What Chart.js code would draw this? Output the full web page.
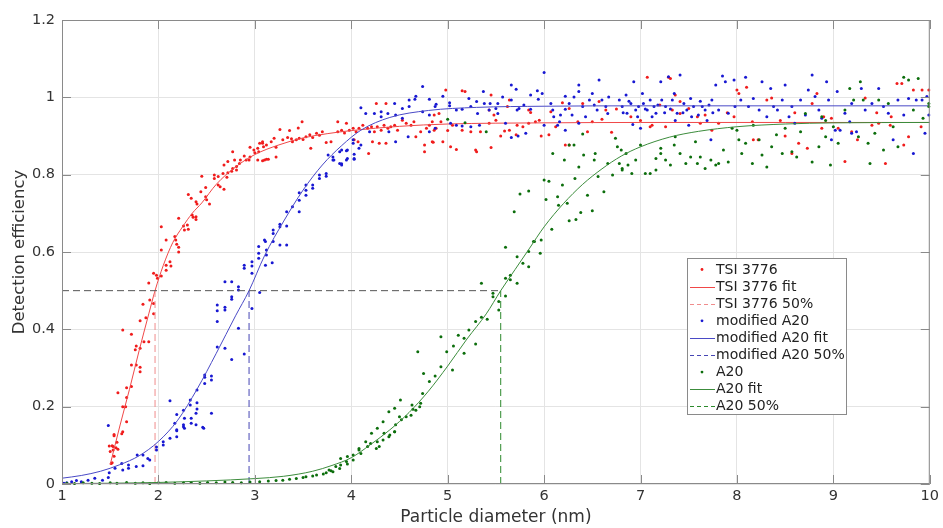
<!DOCTYPE html>
<html>
<head>
<meta charset="utf-8">
<script src="https://cdn.jsdelivr.net/npm/chart.js@4.4.1/dist/chart.umd.min.js"></script>
<style>
  html, body { margin: 0; padding: 0; background: #fff; }
  #wrap { width: 943px; height: 528px; }
</style>
</head>
<body>
<div id="wrap"><canvas id="chart" width="943" height="528"></canvas></div>
<script>
// ─── Data ───────────────────────────────────────────────────────────────────

const xTicks = [1, 2, 3, 4, 5, 6, 7, 8, 9, 10];
const yTicks = [0, 0.2, 0.4, 0.6, 0.8, 1, 1.2];

const seriesNames = [
  'TSI 3776', 'TSI 3776 fit', 'TSI 3776 50%',
  'modified A20', 'modified A20 fit', 'modified A20 50%',
  'A20', 'A20 fit', 'A20 50%',
];

// d50 cut-off diameters (nm) where the fits cross 0.5
const tsiD50 = 1.965;
const modD50 = 2.94;
const a20D50 = 5.55;
const halfLevel = 0.5;

// TSI 3776 measured points [diameter, efficiency]
const tsiPoints = [
  [1.49,0.098],[1.50,0.084],[1.51,0.053],[1.52,0.099],[1.52,0.055],[1.53,0.097],[1.53,0.088],[1.54,0.128],
  [1.54,0.072],[1.54,0.125],[1.56,0.094],[1.57,0.108],[1.58,0.090],[1.63,0.135],[1.62,0.130],[1.67,0.161],
  [1.63,0.200],[1.66,0.200],[1.58,0.236],[1.67,0.249],[1.67,0.224],[1.72,0.252],[1.72,0.308],[1.77,0.308],
  [1.81,0.302],[1.81,0.290],[1.77,0.357],[1.76,0.347],[1.81,0.351],[1.85,0.368],[1.90,0.368],[1.81,0.422],
  [1.87,0.430],[1.63,0.398],[1.72,0.387],[1.84,0.465],[1.91,0.476],[1.95,0.467],[1.95,0.440],[1.90,0.520],
  [1.95,0.545],[1.98,0.540],[1.99,0.532],[2.03,0.538],[2.08,0.553],[2.08,0.566],[2.12,0.575],[2.13,0.564],
  [2.03,0.605],[2.03,0.665],[2.08,0.631],[2.17,0.640],[2.18,0.631],[2.19,0.620],[2.21,0.612],[2.21,0.600],
  [2.21,0.687],[2.26,0.667],[2.30,0.670],[2.27,0.657],[2.31,0.659],[2.35,0.696],[2.36,0.690],[2.39,0.691],
  [2.39,0.684],[2.31,0.749],[2.34,0.739],[2.39,0.730],[2.40,0.724],[2.45,0.796],[2.49,0.767],[2.44,0.756],
  [2.49,0.743],[2.50,0.735],[2.53,0.724],[2.58,0.799],[2.58,0.790],[2.62,0.795],[2.62,0.773],[2.64,0.769],
  [2.68,0.762],[2.67,0.803],[2.72,0.805],[2.71,0.793],[2.68,0.825],[2.72,0.834],[2.76,0.809],[2.77,0.816],
  [2.81,0.812],[2.81,0.821],[2.77,0.859],[2.79,0.838],[2.84,0.829],[2.85,0.838],[2.89,0.848],[2.91,0.838],
  [2.94,0.838],[2.95,0.846],[2.95,0.871],[2.99,0.864],[3.00,0.857],[3.03,0.868],[3.04,0.859],[3.08,0.881],
  [3.09,0.872],[3.12,0.840],[3.03,0.838],[3.08,0.836],[3.05,0.881],[3.08,0.885],[3.12,0.877],[3.17,0.885],
  [3.20,0.894],[3.22,0.871],[3.10,0.838],[3.14,0.840],[3.22,0.846],[3.26,0.917],[3.29,0.890],[3.34,0.896],
  [3.38,0.893],[3.39,0.885],[3.43,0.890],[3.46,0.894],[3.50,0.891],[3.53,0.898],[3.57,0.903],[3.60,0.896],
  [3.64,0.907],[3.67,0.902],[3.70,0.911],[3.49,0.937],[3.45,0.921],[3.36,0.914],[3.58,0.868],[3.74,0.883],
  [3.79,0.885],[3.86,0.937],[3.95,0.933],[3.86,0.911],[3.90,0.915],[3.93,0.908],[3.98,0.915],[4.02,0.920],
  [4.05,0.911],[4.08,0.920],[4.03,0.890],[4.07,0.885],[4.18,0.855],[4.12,0.928],[4.17,0.920],[4.21,0.924],
  [4.24,0.911],[4.27,0.924],[4.31,0.915],[4.34,0.928],[4.38,0.920],[4.41,0.924],[4.45,0.928],[4.48,0.915],
  [4.22,0.885],[4.29,0.881],[4.36,0.881],[4.26,0.984],[4.36,0.984],[4.53,0.941],[4.57,0.933],[4.62,0.928],
  [4.65,0.937],[4.67,0.898],[4.72,0.911],[4.76,0.877],[4.76,0.859],[4.78,0.920],[4.84,0.937],[4.85,0.884],
  [4.88,0.920],[4.98,1.019],[5.15,1.017],[5.18,1.015],[5.45,1.006],[4.86,0.954],[4.91,0.958],[4.93,0.937],
  [4.81,0.928],[4.84,0.885],[4.95,0.885],[5.03,0.872],[5.09,0.865],[5.29,0.864],[5.30,0.859],[5.45,0.870],
  [4.86,0.915],[5.00,0.914],[5.05,0.928],[5.15,0.915],[5.24,0.911],[5.34,0.911],[5.43,0.933],[5.50,0.941],
  [5.55,0.900],[5.64,0.915],[5.72,0.928],[5.78,0.924],[5.84,0.933],[5.91,0.937],[5.95,0.941],[5.59,0.913],
  [5.71,0.903],[5.84,0.967],[5.86,0.961],[5.43,0.967],[5.48,0.954],[5.64,0.993],[5.62,0.976],[5.97,0.900],
  [6.05,0.903],[6.07,0.963],[6.12,0.924],[6.19,0.986],[6.26,0.971],[6.35,0.937],[6.40,0.984],[6.45,0.911],
  [6.50,0.937],[6.57,0.989],[6.60,0.943],[6.64,0.967],[6.22,0.877],[6.26,0.877],[6.70,0.910],[6.75,0.970],
  [6.90,0.950],[7.00,0.940],[7.07,1.052],[7.29,1.052],[7.31,1.049],[7.41,0.989],[7.36,1.006],[7.12,0.928],
  [7.10,0.924],[7.26,0.924],[7.20,0.980],[7.33,0.967],[7.41,0.958],[7.50,0.971],[7.59,0.950],[7.67,0.954],
  [7.81,0.933],[7.74,0.915],[7.62,0.933],[7.90,0.960],[7.97,0.950],[8.00,1.019],[8.10,1.026],[8.02,1.010],
  [8.16,0.937],[8.17,0.890],[8.22,0.890],[8.31,0.993],[8.36,0.998],[8.45,0.940],[8.50,0.900],[8.57,0.855],
  [8.60,0.960],[8.64,0.881],[8.73,0.868],[8.78,0.984],[8.83,1.010],[8.88,0.920],[8.90,0.950],[8.98,0.946],
  [9.05,0.920],[9.12,0.834],[9.19,0.911],[9.25,0.890],[9.33,0.998],[9.40,0.928],[9.45,0.960],[9.47,0.933],
  [9.54,0.829],[9.59,0.928],[9.60,0.950],[9.66,1.036],[9.71,1.036],[9.73,0.877],[9.78,0.898],[9.83,1.019],
  [9.91,0.924],[9.92,1.019],[9.99,1.019],
];

// modified A20 measured points
const modPoints = [
  [1.02,0.002],[1.05,0.003],[1.10,0.006],[1.15,0.009],[1.20,0.006],[1.27,0.010],[1.34,0.015],[1.42,0.010],
  [1.48,0.017],[1.49,0.029],[1.48,0.151],[1.55,0.041],[1.62,0.053],[1.63,0.036],[1.69,0.041],[1.69,0.049],
  [1.77,0.045],[1.84,0.047],[1.78,0.075],[1.84,0.075],[1.89,0.066],[1.91,0.062],[1.98,0.096],[1.98,0.088],
  [2.05,0.101],[2.05,0.109],[2.12,0.118],[2.19,0.122],[2.19,0.140],[2.17,0.157],[2.27,0.144],[2.26,0.153],
  [2.34,0.157],[2.39,0.153],[2.34,0.170],[2.39,0.183],[2.47,0.144],[2.55,0.183],[2.12,0.215],[2.19,0.180],
  [2.26,0.191],[2.33,0.217],[2.33,0.204],[2.40,0.210],[2.40,0.194],[2.27,0.170],[2.46,0.147],[2.19,0.138],
  [2.26,0.148],[2.48,0.282],[2.48,0.276],[2.55,0.279],[2.55,0.269],[2.48,0.260],[2.40,0.243],[2.61,0.463],
  [2.61,0.448],[2.61,0.420],[2.69,0.457],[2.69,0.450],[2.61,0.354],[2.69,0.351],[2.76,0.322],[2.89,0.336],
  [2.83,0.403],[2.76,0.484],[2.97,0.454],[3.05,0.495],[2.83,0.502],[2.76,0.478],[2.83,0.510],[2.89,0.566],
  [2.89,0.558],[2.97,0.575],[2.97,0.564],[2.97,0.545],[3.04,0.597],[3.04,0.584],[3.12,0.605],[3.12,0.592],
  [3.11,0.566],[3.18,0.572],[3.19,0.627],[3.11,0.627],[3.26,0.618],[3.33,0.618],[2.69,0.523],[2.76,0.523],
  [3.04,0.614],[3.10,0.631],[3.19,0.648],[3.19,0.657],[3.26,0.665],[3.26,0.672],[3.33,0.667],[3.33,0.704],
  [3.39,0.717],[3.46,0.704],[3.46,0.734],[3.46,0.753],[3.53,0.773],[3.53,0.760],[3.53,0.747],[3.60,0.773],
  [3.60,0.765],[3.67,0.799],[3.67,0.790],[3.74,0.803],[3.74,0.796],[3.81,0.838],[3.81,0.846],[3.88,0.859],
  [3.88,0.829],[3.95,0.862],[3.95,0.838],[4.02,0.881],[4.02,0.890],[3.90,0.828],[4.03,0.840],[4.03,0.853],
  [4.08,0.868],[4.10,0.973],[4.15,0.958],[4.24,0.958],[4.31,0.963],[4.31,0.950],[4.38,0.958],[4.45,0.984],
  [4.46,0.954],[4.53,0.971],[4.53,0.946],[4.60,0.993],[4.60,0.976],[4.67,1.003],[4.66,0.995],[4.74,0.963],
  [4.81,0.954],[4.87,0.976],[4.87,0.920],[4.81,0.911],[4.74,1.028],[4.59,0.898],[4.46,0.885],[4.39,0.911],
  [4.19,0.911],[4.10,0.877],[4.03,0.842],[3.96,0.842],[3.96,0.864],[3.90,0.864],[3.90,0.825],[3.82,0.838],
  [3.76,0.851],[4.81,0.995],[4.88,0.982],[4.95,1.003],[5.02,0.986],[5.02,0.978],[5.09,0.967],[5.15,0.969],
  [5.22,0.997],[5.24,0.976],[5.30,0.989],[5.31,0.958],[5.37,1.015],[5.38,0.984],[5.44,0.984],[5.52,0.984],
  [5.52,0.958],[5.57,1.001],[5.66,1.032],[5.66,0.993],[5.71,1.021],[5.72,0.967],[5.79,0.980],[5.86,1.006],
  [5.93,1.017],[5.94,0.995],[5.98,1.010],[6.00,1.064],[6.07,0.984],[6.09,0.967],[6.10,0.950],[6.14,0.928],
  [6.17,0.954],[6.22,1.003],[6.22,0.969],[6.26,0.984],[6.29,0.954],[6.31,1.001],[6.36,1.032],[6.36,1.015],
  [6.40,0.976],[6.43,0.950],[6.47,0.993],[6.50,1.010],[6.52,0.980],[6.55,0.967],[6.57,1.045],[6.60,0.993],
  [6.64,0.976],[6.66,0.958],[6.67,1.001],[6.16,0.937],[6.22,0.915],[6.36,0.933],[6.00,0.928],[5.74,0.971],
  [5.15,0.926],[5.09,0.928],[5.03,0.933],[5.24,0.924],[5.33,0.928],[5.43,0.967],[5.50,0.971],[5.60,0.933],
  [5.81,0.907],[5.86,0.969],[5.66,0.896],[5.73,0.900],[6.78,0.993],[6.81,0.976],[6.85,1.006],[6.86,0.959],
  [6.90,0.984],[6.93,1.040],[6.95,0.967],[6.98,0.976],[7.02,1.010],[7.03,0.984],[7.07,0.967],[7.10,0.993],
  [7.14,0.976],[7.16,0.959],[7.21,1.040],[7.22,0.993],[7.26,0.976],[7.29,1.053],[7.33,0.993],[7.35,1.010],
  [7.38,0.959],[7.41,1.058],[7.45,0.984],[7.48,0.967],[7.50,0.928],[7.52,0.997],[7.55,0.976],[7.60,0.954],
  [7.64,0.976],[7.67,0.967],[7.71,0.980],[7.73,0.890],[7.74,0.993],[7.78,1.032],[7.81,0.967],[7.85,1.055],
  [7.88,1.040],[7.91,0.959],[7.97,1.045],[7.98,0.976],[8.04,0.993],[8.09,1.052],[8.12,0.976],[8.17,0.997],
  [8.23,0.967],[8.26,1.040],[8.31,0.950],[8.35,1.023],[8.38,0.976],[8.42,0.967],[8.47,0.993],[8.50,1.032],
  [8.54,0.950],[8.57,0.976],[8.60,0.933],[8.66,0.993],[8.71,0.954],[8.74,1.019],[8.78,1.058],[8.81,1.002],
  [8.85,0.967],[8.88,0.946],[8.93,1.040],[8.95,0.993],[8.98,0.890],[9.04,1.015],[9.07,0.915],[9.12,0.959],
  [9.17,0.937],[9.19,0.984],[9.24,0.911],[9.29,1.023],[9.33,0.967],[9.40,0.984],[9.47,1.023],[9.52,0.976],
  [9.57,0.959],[9.62,0.890],[9.67,0.993],[9.73,0.954],[9.78,0.997],[9.83,0.855],[9.86,0.993],[9.92,0.993],
  [9.97,1.002],[9.99,0.954],[9.95,0.907],[9.02,0.915],[9.19,0.907],[6.82,0.960],[6.88,0.990],[6.97,0.950],
  [7.05,0.970],[7.12,0.950],[7.18,0.980],[7.25,0.960],[7.31,0.970],[7.36,0.940],[7.44,0.960],[7.53,0.950],
  [7.62,0.990],[7.69,0.940],[7.75,0.960],[6.92,0.930],[7.00,0.920],
];

// A20 measured points
const a20Points = [
  [1.05,0.002],[1.13,0.001],[1.22,0.003],[1.31,0.002],[1.39,0.001],[1.50,0.003],[1.57,0.002],[1.67,0.004],
  [1.76,0.002],[1.84,0.003],[1.91,0.001],[2.00,0.003],[2.08,0.004],[2.17,0.002],[2.26,0.003],[2.34,0.004],
  [2.43,0.002],[2.51,0.004],[2.60,0.003],[2.69,0.005],[2.77,0.004],[2.86,0.003],[2.95,0.005],[3.05,0.006],
  [3.14,0.008],[3.22,0.009],[3.29,0.010],[3.36,0.012],[3.43,0.014],[3.50,0.017],[3.53,0.019],[3.60,0.021],
  [3.64,0.023],[3.71,0.026],[3.74,0.029],[3.79,0.034],[3.81,0.032],[3.88,0.040],[3.89,0.049],[3.95,0.058],
  [3.96,0.052],[4.02,0.062],[4.02,0.075],[4.08,0.088],[4.10,0.079],[4.17,0.097],[4.20,0.105],[4.26,0.092],
  [4.27,0.109],[4.33,0.114],[4.34,0.131],[4.40,0.127],[4.45,0.135],[4.46,0.153],[4.52,0.166],[4.57,0.174],
  [4.62,0.178],[4.67,0.191],[4.71,0.200],[4.72,0.209],[3.77,0.036],[3.84,0.045],[3.89,0.066],[3.96,0.071],
  [4.08,0.092],[4.15,0.109],[4.21,0.131],[4.27,0.144],[4.33,0.161],[4.39,0.187],[4.45,0.196],[4.51,0.217],
  [4.63,0.204],[4.69,0.342],[4.74,0.234],[4.75,0.286],[4.81,0.265],[4.87,0.279],[4.93,0.303],[4.93,0.381],
  [4.99,0.342],[5.05,0.295],[5.06,0.357],[5.11,0.385],[5.17,0.377],[5.17,0.338],[5.22,0.398],[5.29,0.362],
  [5.29,0.420],[5.35,0.431],[5.35,0.519],[5.41,0.426],[5.47,0.493],[5.47,0.484],[5.53,0.472],[5.53,0.450],
  [5.60,0.486],[5.60,0.532],[5.65,0.528],[5.65,0.540],[5.72,0.519],[5.72,0.588],[5.78,0.571],[5.84,0.562],
  [5.84,0.601],[5.90,0.627],[5.96,0.597],[5.60,0.612],[4.29,0.097],[4.39,0.122],[4.45,0.135],[4.50,0.174],
  [4.64,0.193],[5.69,0.704],[5.75,0.750],[5.84,0.758],[5.89,0.627],[5.97,0.631],[6.00,0.786],[6.05,0.783],
  [6.02,0.736],[6.08,0.659],[6.09,0.855],[6.14,0.743],[6.15,0.721],[6.19,0.773],[6.21,0.838],[6.24,0.726],
  [6.26,0.681],[6.26,0.877],[6.31,0.877],[6.32,0.790],[6.33,0.684],[6.36,0.820],[6.38,0.702],[6.41,0.851],
  [6.45,0.747],[6.50,0.707],[6.52,0.838],[6.53,0.855],[6.56,0.795],[6.62,0.756],[6.66,0.829],[6.71,0.799],
  [6.74,0.894],[6.76,0.872],[6.80,0.864],[6.81,0.816],[6.87,0.825],[5.40,0.911],[5.18,0.934],[5.00,0.943],
  [6.40,0.905],[6.78,0.829],[6.81,0.812],[6.85,0.855],[6.91,0.803],[6.95,0.838],[7.00,0.877],[7.05,0.803],
  [7.10,0.803],[7.16,0.812],[7.16,0.842],[7.21,0.868],[7.21,0.855],[7.26,0.838],[7.31,0.825],[7.35,0.877],
  [7.36,0.898],[7.41,0.855],[7.47,0.829],[7.52,0.846],[7.57,0.885],[7.59,0.829],[7.62,0.846],[7.67,0.816],
  [7.73,0.838],[7.78,0.825],[7.81,0.829],[7.86,0.864],[7.91,0.833],[7.95,0.920],[8.00,0.915],[8.02,0.890],
  [8.05,0.855],[8.09,0.881],[8.16,0.829],[8.17,0.928],[8.23,0.890],[8.26,0.851],[8.31,0.820],[8.36,0.872],
  [8.41,0.903],[8.47,0.855],[8.50,0.920],[8.57,0.859],[8.62,0.846],[8.66,0.911],[8.71,0.958],[8.78,0.833],
  [8.85,0.872],[8.88,0.950],[8.92,0.898],[8.92,0.940],[8.97,0.825],[9.00,0.924],[9.05,0.881],[9.12,0.967],
  [9.17,1.023],[9.21,0.993],[9.26,0.898],[9.28,1.040],[9.31,0.993],[9.36,0.881],[9.38,0.829],[9.43,0.907],
  [9.47,0.993],[9.52,0.864],[9.57,0.984],[9.62,0.924],[9.67,0.872],[9.73,1.052],[9.78,1.045],[9.83,0.967],
  [9.88,1.049],[9.93,0.946],[9.99,0.976],[9.99,0.984],
];

// Fitted curves, sampled along the drawn lines
const tsiFit = [
  [1.50,0.050],[1.60,0.150],[1.70,0.245],[1.80,0.345],[1.90,0.440],[1.965,0.500],[2.05,0.565],[2.15,0.625],
  [2.25,0.665],[2.35,0.700],[2.45,0.727],[2.60,0.775],[2.80,0.820],[3.00,0.852],[3.25,0.877],[3.50,0.895],
  [3.75,0.906],[4.00,0.914],[4.50,0.925],[5.00,0.931],[6.00,0.934],[7.00,0.935],[8.50,0.935],[10.00,0.935],
];
const modFit = [
  [1.00,0.015],[1.20,0.022],[1.40,0.033],[1.60,0.050],[1.80,0.073],[2.00,0.110],[2.20,0.165],[2.40,0.245],
  [2.60,0.338],[2.80,0.435],[2.94,0.500],[3.10,0.590],[3.30,0.680],[3.50,0.760],[3.70,0.825],[3.90,0.875],
  [4.10,0.915],[4.40,0.948],[4.80,0.966],[5.30,0.974],[6.00,0.977],[7.00,0.978],[10.00,0.978],
];
const a20Fit = [
  [1.00,0.001],[1.50,0.002],[2.00,0.004],[2.50,0.008],[3.00,0.014],[3.30,0.020],[3.60,0.033],[3.80,0.048],
  [4.00,0.068],[4.20,0.102],[4.40,0.140],[4.60,0.185],[4.80,0.240],[5.00,0.305],[5.20,0.375],[5.40,0.440],
  [5.55,0.500],[5.70,0.555],[5.85,0.610],[6.00,0.665],[6.20,0.725],[6.40,0.775],[6.60,0.815],[6.80,0.848],
  [7.00,0.872],[7.30,0.897],[7.60,0.912],[8.00,0.924],[8.50,0.931],[9.00,0.934],[10.00,0.935],
];

// ─── Styles ─────────────────────────────────────────────────────────────────

const FONT = "'DejaVu Sans', sans-serif";
const TEXT = '#333333';
const AXIS = '#8a8a8a';

const toXY = arr => arr.map(([x, y]) => ({ x, y }));

const scatterSet = (label, pts, color) => ({
  label, kind: 'dot', data: toXY(pts),
  showLine: false, pointRadius: 1.5, pointBorderWidth: 0,
  pointBackgroundColor: color, backgroundColor: color, borderColor: color,
  clip: 4,
});
const fitSet = (label, pts, color) => ({
  label, kind: 'line', data: toXY(pts),
  showLine: true, pointRadius: 0, borderWidth: 1, borderColor: color,
  cubicInterpolationMode: 'monotone',
});
const halfSet = (label, d50, color) => ({
  label, kind: 'dash',
  data: [{ x: d50, y: 0 }, { x: d50, y: halfLevel }],
  showLine: true, pointRadius: 0, borderWidth: 1, borderColor: color, borderDash: [7, 4],
});

const datasets = [
  scatterSet(seriesNames[0], tsiPoints, '#f01c1c'),
  fitSet(seriesNames[1], tsiFit, '#f04848'),
  halfSet(seriesNames[2], tsiD50, '#f08c8c'),
  scatterSet(seriesNames[3], modPoints, '#1818d2'),
  fitSet(seriesNames[4], modFit, '#4a4ac6'),
  halfSet(seriesNames[5], modD50, '#4646b4'),
  scatterSet(seriesNames[6], a20Points, '#0c6e0c'),
  fitSet(seriesNames[7], a20Fit, '#3c8c3c'),
  halfSet(seriesNames[8], a20D50, '#2c8a2c'),
  {
    // shared horizontal 50 % guide
    label: '', kind: 'none', hideInLegend: true,
    data: [{ x: xTicks[0], y: halfLevel }, { x: a20D50, y: halfLevel }],
    showLine: true, pointRadius: 0, borderWidth: 1, borderColor: '#555555', borderDash: [7, 4],
  },
];
// later series drawn on top, as in the original
datasets.forEach((d, i) => { d.order = datasets.length - i; });

// ─── Plugins: MATLAB-style box, inward ticks and legend ─────────────────────

const axesBoxPlugin = {
  id: 'axesBox',
  afterDatasetsDraw(chart) {
    const { ctx, chartArea: a, scales: { x, y } } = chart;
    const tl = 9;
    ctx.save();
    ctx.strokeStyle = AXIS;
    ctx.lineWidth = 1;
    ctx.strokeRect(a.left + 0.5, a.top + 0.5, a.right - a.left - 1, a.bottom - a.top - 1);
    ctx.beginPath();
    xTicks.forEach(v => {
      const px = Math.round(x.getPixelForValue(v)) + 0.5;
      ctx.moveTo(px, a.bottom); ctx.lineTo(px, a.bottom - tl);
      ctx.moveTo(px, a.top);    ctx.lineTo(px, a.top + tl);
    });
    yTicks.forEach(v => {
      const py = Math.round(y.getPixelForValue(v)) + 0.5;
      ctx.moveTo(a.left, py);  ctx.lineTo(a.left + tl, py);
      ctx.moveTo(a.right, py); ctx.lineTo(a.right - tl, py);
    });
    ctx.stroke();
    ctx.restore();
  },
};

const legendPlugin = {
  id: 'boxLegend',
  afterDraw(chart) {
    const { ctx } = chart;
    const items = chart.data.datasets.filter(d => !d.hideInLegend);
    const bx = 687.5, by = 258.5, bw = 159, bh = 156;
    const rowH = 17.1, firstY = 269.5;
    ctx.save();
    ctx.fillStyle = '#ffffff';
    ctx.fillRect(bx, by, bw, bh);
    ctx.strokeStyle = '#8a8a8a';
    ctx.lineWidth = 1;
    ctx.strokeRect(bx, by, bw, bh);
    ctx.font = `14px ${FONT}`;
    ctx.textBaseline = 'middle';
    ctx.textAlign = 'left';
    items.forEach((d, i) => {
      const cy = firstY + i * rowH;
      if (d.kind === 'dot') {
        ctx.fillStyle = d.pointBackgroundColor;
        ctx.beginPath();
        ctx.arc(702, cy, 1.4, 0, Math.PI * 2);
        ctx.fill();
      } else {
        ctx.strokeStyle = d.borderColor;
        ctx.setLineDash(d.kind === 'dash' ? [4, 3] : []);
        ctx.beginPath();
        ctx.moveTo(690, Math.round(cy) + 0.5);
        ctx.lineTo(715, Math.round(cy) + 0.5);
        ctx.stroke();
        ctx.setLineDash([]);
      }
      ctx.fillStyle = '#222222';
      ctx.fillText(d.label, 716, cy + 0.5);
    });
    ctx.restore();
  },
};

// ─── Chart ──────────────────────────────────────────────────────────────────

new Chart(document.getElementById('chart'), {
  type: 'scatter',
  data: { datasets },
  plugins: [axesBoxPlugin, legendPlugin],
  options: {
    responsive: false,
    animation: false,
    layout: { padding: { left: 0, right: 12, top: 20, bottom: 0 } },
    plugins: { legend: { display: false }, tooltip: { enabled: false } },
    elements: { line: { tension: 0 } },
    scales: {
      x: {
        type: 'linear', min: xTicks[0], max: xTicks[xTicks.length - 1],
        afterBuildTicks: s => { s.ticks = xTicks.map(v => ({ value: v })); },
        afterFit: s => { s.height = 44; },
        grid: { color: '#e4e4e4', drawTicks: false },
        border: { display: false },
        ticks: {
          color: TEXT, font: { family: FONT, size: 14.5 }, padding: 4, maxRotation: 0,
          callback: v => String(v),
        },
        title: {
          display: true, text: 'Particle diameter (nm)', color: TEXT,
          font: { family: FONT, size: 17 }, padding: { top: 0, bottom: 0 },
        },
      },
      y: {
        type: 'linear', min: yTicks[0], max: yTicks[yTicks.length - 1],
        afterBuildTicks: s => { s.ticks = yTicks.map(v => ({ value: v })); },
        afterFit: s => { s.width = 62; },
        grid: { color: '#e4e4e4', drawTicks: false },
        border: { display: false },
        ticks: {
          color: TEXT, font: { family: FONT, size: 14.5 }, padding: 7,
          callback: v => String(v),
        },
        title: {
          display: true, text: 'Detection efficiency', color: TEXT,
          font: { family: FONT, size: 16.5 }, padding: { top: 10, bottom: 0 },
        },
      },
    },
  },
});
</script>
</body>
</html>
